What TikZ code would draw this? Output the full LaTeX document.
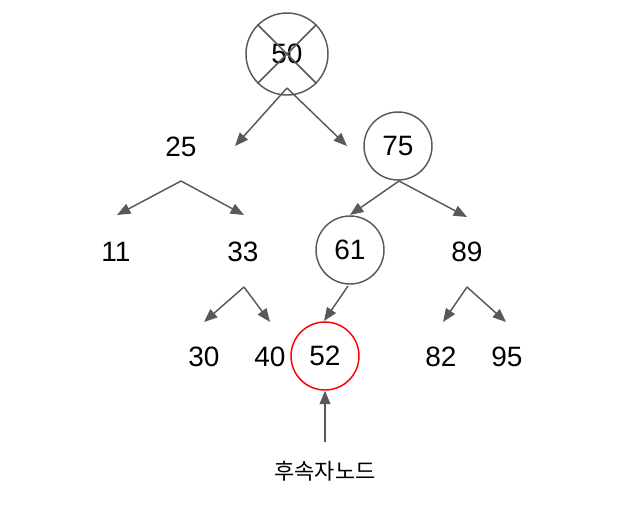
\documentclass[tikz,border=0pt]{standalone}
\usepackage{fontspec}
\setmainfont{Liberation Sans}
\newfontfamily\cjk{Noto Sans CJK KR}
\usetikzlibrary{arrows.meta}
\definecolor{edge}{HTML}{595959}
\begin{document}
\begin{tikzpicture}[x=0.75pt,y=-0.75pt,
  num/.style={font=\fontsize{21}{21}\selectfont, inner sep=0pt},
  ring/.style={circle, draw=edge, line width=1.1pt, minimum size=#1*1.5pt, inner sep=0pt, font=\fontsize{21}{21}\selectfont},
  conn/.style={draw=edge, line width=1.1pt, -{Triangle[length=10pt,width=8pt]}}]
\useasboundingbox (0,0) rectangle (640,512);
% nodes
\node[ring=41] (n50) at (287,54) {50};
\draw[edge, line width=1.1pt] (n50.45) -- (n50.225) (n50.135) -- (n50.315);
\node[num] (n25) at (181,147) {25};
\node[ring=34] (n75) at (398,146) {75};
\node[num] (n11) at (116,252) {11};
\node[num] (n33) at (243,252) {33};
\node[ring=34] (n61) at (350,250) {61};
\node[num] (n89) at (467,252) {89};
\node[num] (n30) at (204,357) {30};
\node[num] (n40) at (270,357) {40};
\node[ring=34, draw=red] (n52) at (325,356) {52};
\node[num] (n82) at (441,357) {82};
\node[num] (n95) at (507,357) {95};
\node[font=\cjk\fontsize{16.5}{16.5}\selectfont, inner sep=0pt] (lab) at (325,471) {후속자노드};
% coordinates
\coordinate (a50) at (287,88);
\coordinate (l50) at (235,146);
\coordinate (r50) at (347,146);
\coordinate (a25) at (181,181);
\coordinate (l25) at (117,215);
\coordinate (r25) at (244,215);
\coordinate (a75) at (399,181);
\coordinate (l75) at (350,215);
\coordinate (r75) at (467,217);
\coordinate (a33) at (244,287);
\coordinate (l33) at (204,322);
\coordinate (r33) at (270,322);
\coordinate (a61) at (348,286);
\coordinate (t52) at (324,321);
\coordinate (a89) at (467,287);
\coordinate (l89) at (443,322);
\coordinate (r89) at (506,322);
\coordinate (s52) at (325,442);
% connectors
\draw[conn] (a50) -- (l50);
\draw[conn] (a50) -- (r50);
\draw[conn] (a25) -- (l25);
\draw[conn] (a25) -- (r25);
\draw[conn] (a75) -- (l75);
\draw[conn] (a75) -- (r75);
\draw[conn] (a33) -- (l33);
\draw[conn] (a33) -- (r33);
\draw[conn] (a61) -- (t52);
\draw[conn] (a89) -- (l89);
\draw[conn] (a89) -- (r89);
\draw[conn] (s52) -- (n52);
\end{tikzpicture}
\end{document}
